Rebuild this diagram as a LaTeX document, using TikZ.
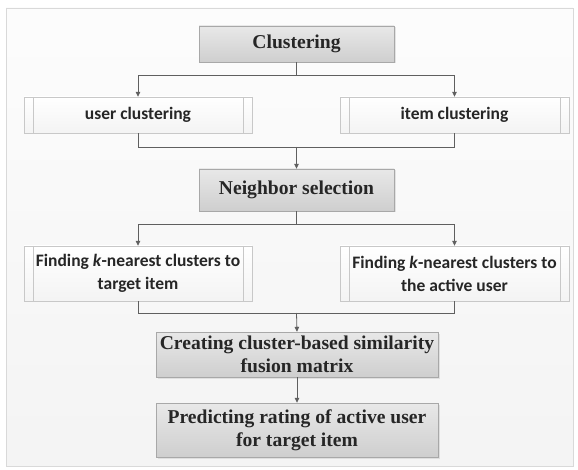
\documentclass[tikz,border=0pt]{standalone}
\usepackage{fontspec}
\setmainfont{Liberation Serif}
\newfontfamily\boxsans{Carlito}
\usepackage{tikz}
\usetikzlibrary{arrows.meta,shadows}

\definecolor{linegray}{HTML}{5F5F5F}
\definecolor{grayedge}{HTML}{A8A8A8}
\definecolor{whiteedge}{HTML}{C8C8C8}

\tikzset{
  graybox/.style={draw=grayedge, top color=gray!18, bottom color=gray!38,
    drop shadow={shadow xshift=1.5pt, shadow yshift=-1.5pt, fill=gray!40, opacity=0.5},
    align=center, inner sep=0pt, text=black!85, font=\fontsize{19.6}{23}\selectfont\bfseries},
  procbox/.style={draw=whiteedge, top color=white, bottom color=gray!9,
    drop shadow={shadow xshift=1.2pt, shadow yshift=-1.2pt, fill=gray!30, opacity=0.5},
    align=center, inner sep=0pt, text=black!85, font=\boxsans\fontsize{17.5}{23}\selectfont\bfseries,
    path picture={
      \draw[whiteedge] ([xshift=9pt]path picture bounding box.north west) -- ([xshift=9pt]path picture bounding box.south west);
      \draw[whiteedge] ([xshift=-9pt]path picture bounding box.north east) -- ([xshift=-9pt]path picture bounding box.south east);
    }},
  link/.style={draw=linegray, line width=0.8pt},
  arr/.style={link, -{Triangle[width=4.5pt,length=5pt]}}
}

\begin{document}
\begin{tikzpicture}[x=1pt, y=-1pt]
\useasboundingbox (0,0) rectangle (578,470);

% Frame
\draw[gray!30, top color=gray!2, bottom color=gray!9] (6,8) rectangle (573,466);

% Steps
\node[graybox, minimum width=195pt, minimum height=36pt] (clus) at (296.5,44) {Clustering};
\node[procbox, minimum width=228pt, minimum height=36pt] (user) at (138,115) {user clustering};
\node[procbox, minimum width=229pt, minimum height=36pt] (item) at (454.5,115) {item clustering};
\node[graybox, minimum width=195pt, minimum height=42pt] (nbr) at (296.5,190) {Neighbor selection};
\node[procbox, minimum width=228pt, minimum height=55pt] (findl) at (138,273.5) {Finding \textit{k}-nearest clusters to\\target item};
\node[procbox, minimum width=229pt, minimum height=55pt] (findr) at (454.5,273.5) {Finding \textit{k}-nearest clusters to\\the active user};
\node[graybox, minimum width=282pt, minimum height=45pt] (create) at (297,354.5) {Creating cluster-based similarity\\fusion matrix};
\node[graybox, minimum width=282pt, minimum height=54pt] (pred) at (297,430) {Predicting rating of active user\\for target item};

% Junctions
\coordinate (j1) at (296.5,75);
\coordinate (j2) at (296.5,147);
\coordinate (j3) at (296.5,224);
\coordinate (j4) at (296.5,313);

% Connectors
\draw[link] (clus.south) -- (j1);
\draw[arr] (j1) -| (user.north);
\draw[arr] (j1) -| (item.north);
\draw[link] (user.south) |- (j2);
\draw[link] (item.south) |- (j2);
\draw[arr] (j2) -- (nbr.north);
\draw[link] (nbr.south) -- (j3);
\draw[arr] (j3) -| (findl.north);
\draw[arr] (j3) -| (findr.north);
\draw[link] (findl.south) |- (j4);
\draw[link] (findr.south) |- (j4);
\draw[arr] (j4) -- (create.north);
\draw[arr] (create.south) -- (pred.north);
\end{tikzpicture}
\end{document}
